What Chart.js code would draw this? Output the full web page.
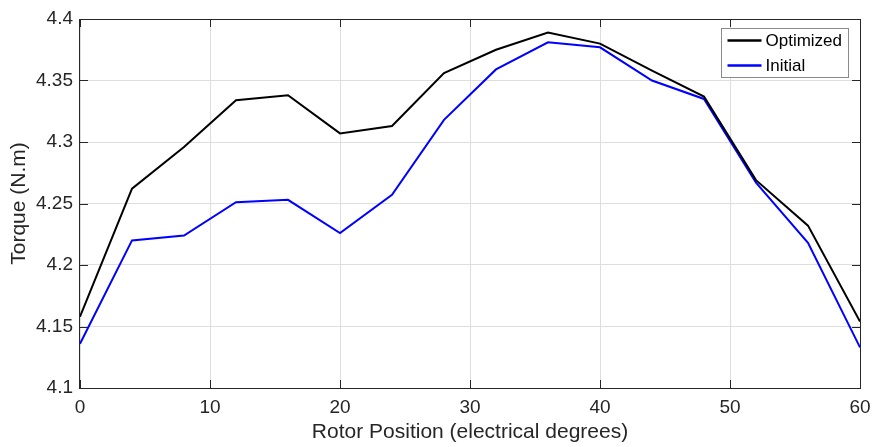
<!DOCTYPE html>
<html>
<head>
<meta charset="utf-8">
<script src="https://cdn.jsdelivr.net/npm/chart.js@4.4.1/dist/chart.umd.min.js"></script>
<style>
  html, body { margin: 0; padding: 0; background: #fff; }
  #wrap { width: 872px; height: 447px; }
</style>
</head>
<body>
<div id="wrap"><canvas id="chart" width="872" height="447"></canvas></div>
<script>
// rotor position (electrical degrees)
const positions = [0, 4, 8, 12, 16, 20, 24, 28, 32, 36, 40, 44, 48, 52, 56, 60];
// torque values (N.m)
const optimizedTorque = [4.158, 4.262, 4.296, 4.334, 4.338, 4.307, 4.313, 4.356, 4.375, 4.389, 4.380, 4.358, 4.337, 4.269, 4.232, 4.154];
const initialTorque = [4.136, 4.220, 4.224, 4.251, 4.253, 4.226, 4.257, 4.318, 4.359, 4.381, 4.377, 4.350, 4.335, 4.267, 4.218, 4.133];
const seriesNames = ['Optimized', 'Initial'];
const seriesColors = ['#000000', '#0000ff'];

const FONT = 'Liberation Sans, Arial, Helvetica, sans-serif';
const TEXT = '#262626';

function toPoints(values) {
    return positions.map((x, i) => ({ x: x, y: values[i] }));
}

// box round the plot with inward ticks on all four sides, like matlab axes
const boxPlugin = {
    id: 'box',
    beforeDatasetsDraw(chart) {
        const { ctx, chartArea: a, scales } = chart;
        const tick = 8;
        ctx.save();
        ctx.strokeStyle = TEXT;
        ctx.lineWidth = 1;
        ctx.beginPath();
        scales.x.ticks.forEach(t => {
            const px = Math.round(scales.x.getPixelForValue(t.value)) + 0.5;
            ctx.moveTo(px, a.bottom); ctx.lineTo(px, a.bottom - tick);
            ctx.moveTo(px, a.top); ctx.lineTo(px, a.top + tick);
        });
        scales.y.ticks.forEach(t => {
            const py = Math.round(scales.y.getPixelForValue(t.value)) + 0.5;
            ctx.moveTo(a.left, py); ctx.lineTo(a.left + tick, py);
            ctx.moveTo(a.right, py); ctx.lineTo(a.right - tick, py);
        });
        ctx.stroke();
        ctx.strokeRect(a.left - 0.5, a.top + 0.5, a.right - a.left + 1, a.bottom - a.top);
        ctx.restore();
    },
    afterDraw(chart) {
        // legend box, top right inside the axes
        const { ctx, chartArea: a } = chart;
        const w = 127, h = 49;
        const x0 = a.right - 11.5 - w, y0 = a.top + 9.5;
        ctx.save();
        ctx.fillStyle = '#ffffff';
        ctx.fillRect(x0, y0, w, h);
        ctx.strokeStyle = '#8a8a8a';
        ctx.lineWidth = 1;
        ctx.strokeRect(x0, y0, w, h);
        ctx.font = '17px ' + FONT;
        ctx.textBaseline = 'middle';
        ctx.fillStyle = '#000000';
        seriesNames.forEach((name, i) => {
            const yy = y0 + 12 + i * 25;
            ctx.strokeStyle = seriesColors[i];
            ctx.lineWidth = 2.5;
            ctx.beginPath();
            ctx.moveTo(x0 + 6, yy);
            ctx.lineTo(x0 + 40, yy);
            ctx.stroke();
            ctx.fillText(name, x0 + 44, yy + 1);
        });
        ctx.restore();
    }
};

new Chart(document.getElementById('chart'), {
    type: 'line',
    data: {
        datasets: [
            {
                label: seriesNames[0],
                data: toPoints(optimizedTorque),
                borderColor: seriesColors[0],
                borderWidth: 2,
                pointRadius: 0,
                tension: 0
            },
            {
                label: seriesNames[1],
                data: toPoints(initialTorque),
                borderColor: seriesColors[1],
                borderWidth: 2,
                pointRadius: 0,
                tension: 0
            }
        ]
    },
    options: {
        responsive: false,
        animation: false,
        events: [],
        layout: { padding: { top: 19, right: 12, left: 0, bottom: 0 } },
        plugins: {
            legend: { display: false },
            tooltip: { enabled: false }
        },
        scales: {
            x: {
                type: 'linear',
                min: 0,
                max: 60,
                afterFit: s => { s.height = 59; s.paddingLeft = 0; s.paddingRight = 0; },
                border: { display: false },
                grid: { color: '#dedede', drawTicks: false },
                ticks: {
                    stepSize: 10,
                    padding: 8,
                    maxRotation: 0,
                    color: TEXT,
                    font: { family: FONT, size: 19 }
                },
                title: {
                    display: true,
                    text: 'Rotor Position (electrical degrees)',
                    color: TEXT,
                    font: { family: FONT, size: 21 },
                    padding: { top: 0, bottom: 2 }
                }
            },
            y: {
                type: 'linear',
                min: 4.1,
                max: 4.4,
                afterFit: s => { s.width = 80; s.paddingTop = 0; s.paddingBottom = 0; },
                border: { display: false },
                grid: { color: '#dedede', drawTicks: false },
                ticks: {
                    stepSize: 0.05,
                    padding: 7,
                    color: TEXT,
                    font: { family: FONT, size: 19 },
                    callback: v => String(parseFloat(v.toFixed(2)))
                },
                title: {
                    display: true,
                    text: 'Torque (N.m)',
                    color: TEXT,
                    font: { family: FONT, size: 21 },
                    padding: { top: 7, bottom: 0 }
                }
            }
        }
    },
    plugins: [boxPlugin]
});
</script>
</body>
</html>
